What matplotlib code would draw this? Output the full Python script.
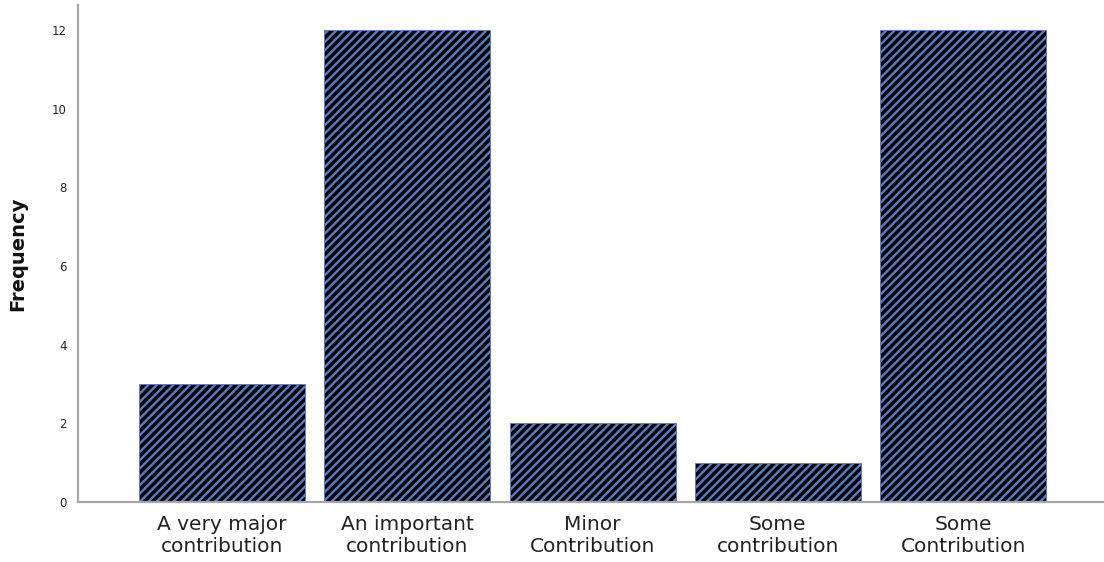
import matplotlib
matplotlib.use("Agg")
import matplotlib.pyplot as plt

categories = ["A very major\ncontribution", "An important\ncontribution", "Minor\nContribution",
              "Some\ncontribution", "Some\nContribution"]
frequencies = [3, 12, 2, 1, 12]
yticks = [0, 2, 4, 6, 8, 10, 12]

plt.rcParams['hatch.linewidth'] = 1.7

fig = plt.figure(figsize=(11.04, 5.62), dpi=100)
ax = fig.add_axes([78/1104, 60/562, 1 - 78/1104, (502-5)/562])

x = list(range(len(categories)))
ax.bar(x, frequencies, width=0.896, color='black', edgecolor='#5b7bc4',
       hatch='////', linewidth=0.6)

ax.set_xlim(-0.777, 4.76)
ax.set_ylim(0, 12.64)
ax.set_yticks(yticks)
ax.set_yticklabels([str(t) for t in yticks], fontsize=8.5, color='#222222')
ax.set_xticks(x)
ax.set_xticklabels(categories, fontsize=14.5, color='#222222', linespacing=1.22)
ax.tick_params(axis='both', length=0)
ax.tick_params(axis='y', pad=8)
ax.tick_params(axis='x', pad=9.5)

for s in ['top', 'right']:
    ax.spines[s].set_visible(False)
for s in ['left', 'bottom']:
    ax.spines[s].set_color('#a6a6a6')
    ax.spines[s].set_linewidth(1.6)

ax.set_ylabel("Frequency", fontsize=14, fontweight='bold', color='#111111')
ax.yaxis.set_label_coords(-0.049, 0.5)

fig.savefig("out.png", dpi=100)
